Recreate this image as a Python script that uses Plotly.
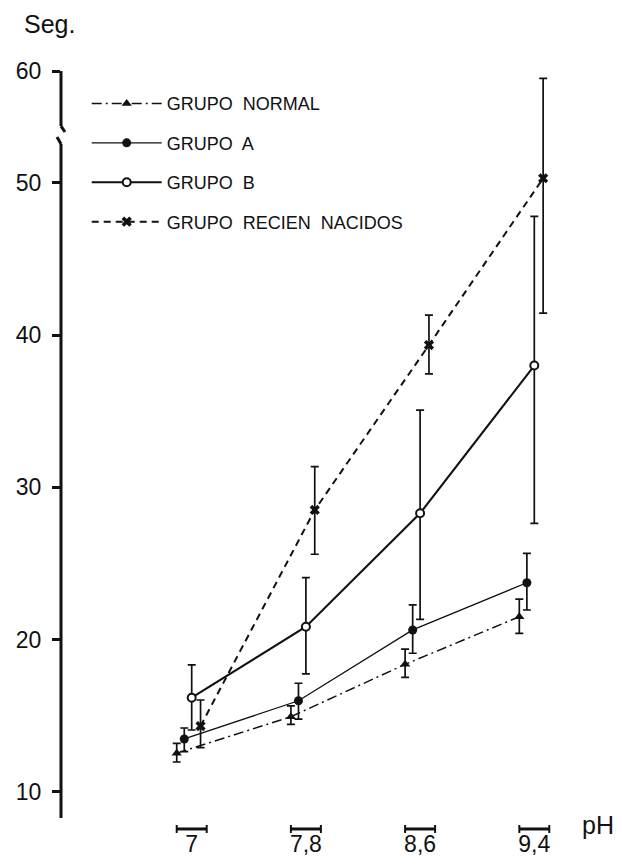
import plotly.graph_objects as go

# ---- data ----
ph_values = [7.0, 7.8, 8.6, 9.4]
ph_labels = ["7", "7,8", "8,6", "9,4"]

normal_vals = [12.55, 14.94, 18.38, 21.51]
normal_err_plus = [0.64, 0.72, 1.0, 1.16]
normal_err_minus = [0.58, 0.5, 0.86, 1.1]

a_vals = [13.48, 15.99, 20.64, 23.74]
a_err_plus = [0.72, 1.15, 1.64, 1.93]
a_err_minus = [0.83, 1.2, 1.53, 1.79]

b_vals = [16.19, 20.85, 28.30, 38.0]
b_err_plus = [2.15, 3.22, 6.78, 9.8]
b_err_minus = [2.12, 3.1, 6.96, 10.36]

rn_vals = [14.33, 28.52, 39.35, 50.3]
rn_err_plus = [1.71, 2.84, 1.97, 6.56]
rn_err_minus = [1.42, 2.91, 1.9, 8.85]

y_tick_vals = [10, 20, 30, 40, 50, 57.34]   # 60 sits above the axis break
y_tick_text = ["10", "20", "30", "40", "50", "60"]

# ---- styling / positions ----
FONT = "Liberation Sans"
INK = "#111111"
x_offsets = {"normal": -0.105, "a": -0.052, "b": 0.0, "rn": 0.062}

def shifted(key):
    return [p + x_offsets[key] for p in ph_values]

fig = go.Figure()

def add_series(key, name, vals, ep, em, line, marker):
    fig.add_trace(go.Scatter(
        x=shifted(key), y=vals, name=name, legendgroup=key,
        mode="lines+markers", line=line, marker=marker,
        error_y=dict(type="data", symmetric=False, array=ep, arrayminus=em,
                     color=INK, thickness=1.7, width=4),
    ))

add_series("normal", "GRUPO\u00a0 NORMAL", normal_vals, normal_err_plus, normal_err_minus,
           dict(color=INK, width=1.5, dash="10px,4px,2px,4px"),
           dict(symbol="triangle-up", size=9, color=INK))
add_series("a", "GRUPO\u00a0 A", a_vals, a_err_plus, a_err_minus,
           dict(color=INK, width=1.3),
           dict(symbol="circle", size=9, color=INK))
add_series("b", "GRUPO\u00a0 B", b_vals, b_err_plus, b_err_minus,
           dict(color=INK, width=2.1),
           dict(symbol="circle", size=8, color="white", line=dict(color=INK, width=2)))
add_series("rn", "GRUPO\u00a0 RECIEN\u00a0 NACIDOS", rn_vals, rn_err_plus, rn_err_minus,
           dict(color=INK, width=2, dash="7px,5px"),
           dict(symbol="x", size=9, color=INK))

# y axis line with a break (drawn as shapes on the y scale)
shapes = []
axis_line = dict(color=INK, width=3)
shapes.append(dict(type="line", xref="paper", yref="y", x0=0, x1=0, y0=57.34, y1=53.73, line=axis_line))
shapes.append(dict(type="line", xref="paper", yref="y", xsizemode="pixel", xanchor=0,
                   x0=0, x1=4, y0=53.73, y1=53.34, line=axis_line))
shapes.append(dict(type="line", xref="paper", yref="y", xsizemode="pixel", xanchor=0,
                   x0=-4, x1=0, y0=53.01, y1=52.55, line=axis_line))
shapes.append(dict(type="line", xref="paper", yref="y", x0=0, x1=0, y0=52.55, y1=8.29, line=axis_line))

# bracket-style x ticks
bracket_y = -0.0115
half = 0.105
for p in ph_values:
    shapes.append(dict(type="line", xref="x", yref="paper", x0=p - half, x1=p + half,
                       y0=bracket_y, y1=bracket_y, line=dict(color=INK, width=3)))
    for xe in (p - half, p + half):
        shapes.append(dict(type="line", xref="x", yref="paper", ysizemode="pixel", yanchor=bracket_y,
                           x0=xe, x1=xe, y0=-4, y1=4, line=dict(color=INK, width=2)))

annotations = [
    dict(text="Seg.", xref="paper", yref="paper", x=-0.076, y=1.02, xanchor="left", yanchor="middle",
         showarrow=False, font=dict(family=FONT, size=25, color=INK)),
    dict(text="pH", xref="paper", yref="paper", x=1.01, y=-0.006, xanchor="left", yanchor="middle",
         showarrow=False, font=dict(family=FONT, size=25, color=INK)),
]

fig.update_layout(
    width=622, height=867,
    margin=dict(l=61, r=47, t=40, b=47, autoexpand=False),
    paper_bgcolor="white", plot_bgcolor="white",
    font=dict(family=FONT, color=INK),
    shapes=shapes, annotations=annotations,
    showlegend=True,
    legend=dict(xref="paper", yref="paper", x=0.05, y=0.942,
                xanchor="left", yanchor="top", traceorder="grouped",
                font=dict(family=FONT, size=18, color=INK),
                bgcolor="rgba(0,0,0,0)", tracegroupgap=13, itemwidth=70),
    xaxis=dict(range=[6.0844, 9.6851], tickvals=ph_values, ticktext=ph_labels,
               showline=False, ticks="", showgrid=False, zeroline=False, tickangle=0,
               tickfont=dict(family=FONT, size=23, color=INK), ticklabelstandoff=8),
    yaxis=dict(range=[8.16, 59.38], tickvals=y_tick_vals, ticktext=y_tick_text,
               showline=False, ticks="outside", ticklen=8, tickwidth=2.5, tickcolor=INK,
               showgrid=False, zeroline=False,
               tickfont=dict(family=FONT, size=23, color=INK), ticklabelstandoff=6),
)

fig.write_html("out.html")
